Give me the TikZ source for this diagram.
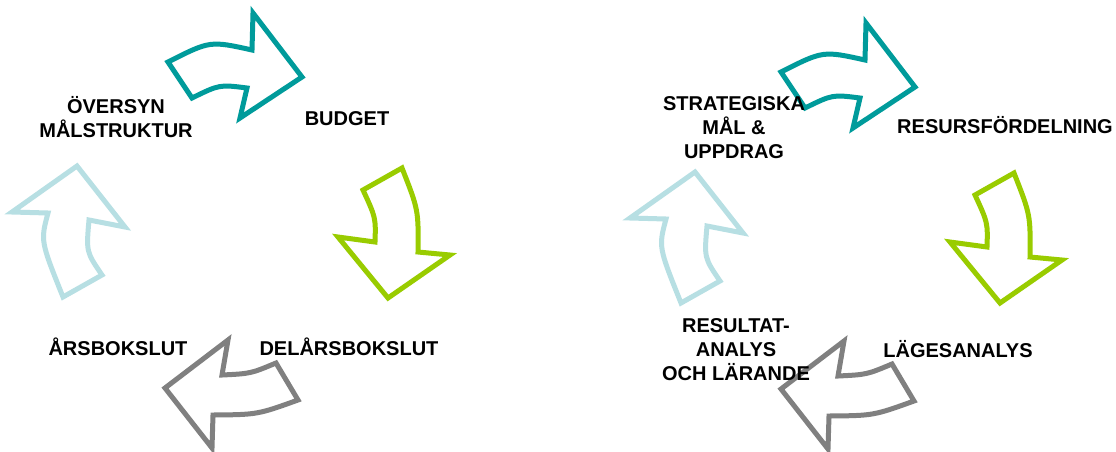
\documentclass[tikz,border=0pt]{standalone}
\usepackage{fontspec}
\setmainfont{Liberation Sans}
\usetikzlibrary{positioning}
\definecolor{cycteal}{HTML}{009B9B}
\definecolor{cycgreen}{HTML}{99CC00}
\definecolor{cycgrey}{HTML}{808080}
\definecolor{cyclight}{HTML}{B7DFE3}

\begin{document}
\begin{tikzpicture}[x=1pt, y=-1pt,
  cycarrow/.style={line width=5pt, fill=white, miter limit=10},
  lbl/.style={font=\bfseries\fontsize{20}{24}\selectfont, align=center,
              inner sep=0pt, anchor=base},
  turnright/.pic={\draw[cycarrow, draw=cycteal] (252,50)
    .. controls (210,40.7) .. (168,62) -- (192,98)
    .. controls (219.5,84.5) .. (247,88) -- (240,118) -- (302,77)
    -- (253,13) -- cycle;},
  turndown/.pic={\draw[cycarrow, draw=cycgreen] (402,168)
    .. controls (418.5,210) .. (418,252) -- (450,255) -- (388,298)
    -- (338,237) -- (375,242) .. controls (375.8,217.7) .. (363,190)
    -- cycle;},
  turnleft/.pic={\draw[cycarrow, draw=cycgrey] (298,400)
    .. controls (257.5,414.6) .. (213,415) -- (212,448) -- (165,388)
    -- (228,340) -- (222,375) .. controls (250.7,373.6) .. (276,363)
    -- cycle;},
  turnup/.pic={\draw[cycarrow, draw=cyclight] (102,275)
    .. controls (86.2,251.8) .. (89,220) -- (125,227) -- (77,166)
    -- (12,212) -- (48,213) .. controls (40.5,240.9) .. (63,297)
    -- cycle;},
]
  \useasboundingbox (0,0) rectangle (1116,451);

  % left cycle
  \pic (lt) at (0,0) {turnright};
  \pic (lg) at (0,0) {turndown};
  \pic (lk) at (0,0) {turnleft};
  \pic (ll) at (0,0) {turnup};

  % right cycle
  \pic (rt) at (613,10) {turnright};
  \pic (rg) at (612,5) {turndown};
  \pic (rk) at (616,1) {turnleft};
  \pic (rl) at (618,6) {turnup};

  % labels (base = last line)
  \node[lbl] (oversyn) at (116,137) {ÖVERSYN\\MÅLSTRUKTUR};
  \node[lbl] (budget) at (347,125) {BUDGET};
  \node[lbl] (delars) at (349,355) {DELÅRSBOKSLUT};
  \node[lbl] (arsbok) at (118,355) {ÅRSBOKSLUT};

  \node[lbl] (strat) at (734,158) {STRATEGISKA\\MÅL \&\\UPPDRAG};
  \node[lbl] (resurs) at (1005,133) {RESURSFÖRDELNING};
  \node[lbl] (lages) at (958,357) {LÄGESANALYS};
  \node[lbl] (result) at (736,380) {RESULTAT-\\ANALYS\\OCH LÄRANDE};
\end{tikzpicture}
\end{document}
